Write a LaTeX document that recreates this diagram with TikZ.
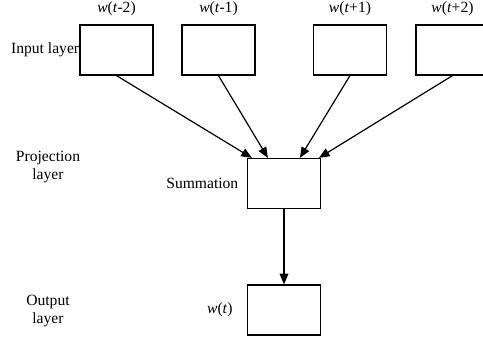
\documentclass[tikz,border=0pt]{standalone}
\usepackage{fontspec}
\setmainfont{Liberation Serif}
\newfontfamily\labelfont{Liberation Serif}
\usetikzlibrary{arrows.meta, positioning, calc}

\begin{document}
\begin{tikzpicture}[
                x=0.75pt, y=-0.75pt,
                font=\labelfont\fontsize{11.7}{13.5}\selectfont,
                >={Triangle[length=8pt, width=6.5pt]},
                node distance=1mm,
                word/.style={
                        draw, line width=0.9pt,
                        minimum width=54.75pt,
                        minimum height=37.5pt,
                        inner sep=0pt
                    },
                lbl/.style={align=center, inner sep=2pt},
                arr/.style={->, line width=0.9pt},
                ]
                \useasboundingbox (0,0) rectangle (483,341);

                % context words
                \node[word] (in1) at (116.5,50) {};
                \node[word] (in2) at (218.5,50) {};
                \node[word] (in3) at (350,50) {};
                \node[word] (in4) at (452.5,50) {};

                \node[lbl, above=1.5mm of in1] (w1) {\textit{w}(\textit{t}-2)};
                \node[lbl, above=1.5mm of in2] (w2) {\textit{w}(\textit{t}-1)};
                \node[lbl, above=1.5mm of in3] (w3) {\textit{w}(\textit{t}+1)};
                \node[lbl, above=1.5mm of in4] (w4) {\textit{w}(\textit{t}+2)};

                % projection and output
                \node[word] (sum) at (284,183.5) {};
                \node[word] (out) at (284,310) {};

                \node[lbl, left=1.5mm of sum] (sumlbl) {Summation};
                \node[lbl, left=3mm of out] (wt) {\textit{w}(\textit{t})};

                % layer names
                \node[lbl, inner sep=0pt, left=0pt of in1] (inlayer) {Input layer};
                \node[lbl] (projlayer) at (48,167) {Projection\\layer};
                \node[lbl] (outlayer) at (48,311) {Output\\layer};

                \draw[arr] (in1.south) -- ($(sum.north west)+(5,0)$);
                \draw[arr] (in2.south) -- ($(sum.north west)+(21,0)$);
                \draw[arr] (in3.south) -- ($(sum.north west)+(53,0)$);
                \draw[arr] (in4.south) -- ($(sum.north west)+(72,0)$);
                \draw[arr] (sum) -- (out);
            \end{tikzpicture}
\end{document}
